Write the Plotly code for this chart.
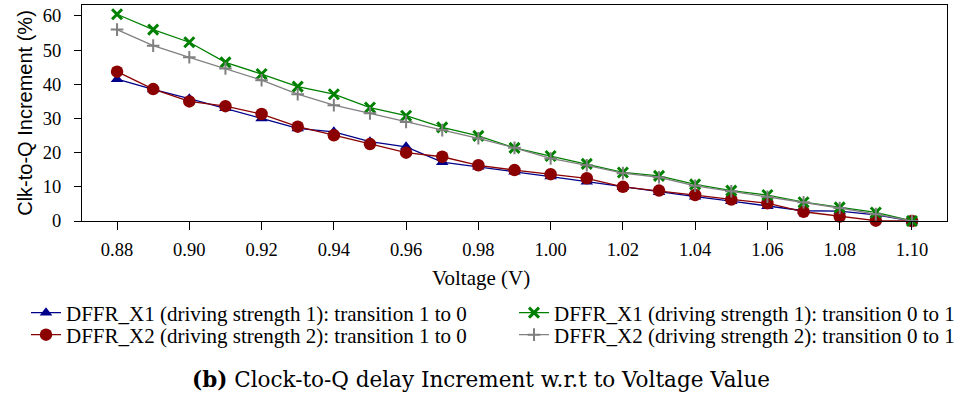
import plotly.graph_objects as go

voltage = [0.88, 0.89, 0.90, 0.91, 0.92, 0.93, 0.94, 0.95, 0.96, 0.97, 0.98, 0.99,
           1.00, 1.01, 1.02, 1.03, 1.04, 1.05, 1.06, 1.07, 1.08, 1.09, 1.10]

x1_fall = [41.5, 38.5, 35.8, 33.0, 30.0, 27.1, 26.1, 23.2, 21.7, 17.2, 15.9, 14.4,
           13.0, 11.5, 9.9, 8.4, 7.1, 5.8, 4.3, 3.0, 2.9, 1.8, 0.0]
x2_fall = [43.7, 38.6, 35.0, 33.6, 31.3, 27.6, 25.1, 22.5, 20.0, 18.8, 16.3, 14.9,
           13.7, 12.5, 10.0, 8.9, 7.6, 6.3, 5.2, 2.7, 1.3, 0.1, 0.0]
x1_rise = [60.5, 56.0, 52.3, 46.4, 43.0, 39.3, 37.1, 33.2, 30.8, 27.4, 24.9, 21.4,
           19.0, 16.7, 14.2, 13.2, 10.7, 8.9, 7.6, 5.5, 4.0, 2.5, 0.0]
x2_rise = [56.0, 51.3, 47.9, 44.6, 41.2, 37.1, 33.9, 31.5, 29.0, 26.6, 24.2, 21.4,
           18.3, 16.3, 14.0, 12.8, 10.3, 8.7, 7.1, 5.5, 3.8, 2.0, 0.0]

names = [
    "DFFR_X1 (driving strength 1): transition 1 to 0",
    "DFFR_X2 (driving strength 2): transition 1 to 0",
    "DFFR_X1 (driving strength 1): transition 0 to 1",
    "DFFR_X2 (driving strength 2): transition 0 to 1",
]
x_ticks = [0.88, 0.90, 0.92, 0.94, 0.96, 0.98, 1.00, 1.02, 1.04, 1.06, 1.08, 1.10]
y_ticks = [0, 10, 20, 30, 40, 50, 60]

fig = go.Figure()
fig.add_trace(go.Scatter(
    x=voltage, y=x1_fall, name=names[0], mode="lines+markers", legend="legend",
    line=dict(color="#00008B", width=1.3), cliponaxis=False,
    marker=dict(symbol="triangle-up", size=11, color="#00008B")))
fig.add_trace(go.Scatter(
    x=voltage, y=x2_fall, name=names[1], mode="lines+markers", legend="legend3",
    line=dict(color="#8B0000", width=1.3), cliponaxis=False,
    marker=dict(symbol="circle", size=12.5, color="#8B0000")))
fig.add_trace(go.Scatter(
    x=voltage, y=x1_rise, name=names[2], mode="lines+markers", legend="legend2",
    line=dict(color="#008000", width=1.3), cliponaxis=False,
    marker=dict(symbol="x-thin", size=10, color="#008000",
                line=dict(color="#008000", width=3))))
fig.add_trace(go.Scatter(
    x=voltage, y=x2_rise, name=names[3], mode="lines+markers", legend="legend4",
    line=dict(color="#808080", width=1.3), cliponaxis=False,
    marker=dict(symbol="cross-thin", size=9, color="#808080",
                line=dict(color="#808080", width=2))))

serif = "Liberation Serif, Times New Roman, Tinos, serif"
sans = "Liberation Sans, Arial, Arimo, sans-serif"
cap_font = "DejaVu Serif, serif"

plot_l, plot_r, plot_t, plot_b = 82, 947, 5, 221
pw, ph = plot_r - plot_l, plot_b - plot_t


def px_x(px):
    return (px - plot_l) / pw


def px_y(py):
    return (plot_b - py) / ph


legend_common = dict(orientation="v", yanchor="middle", xanchor="left",
                     font=dict(family=serif, size=21, color="black"),
                     bgcolor="rgba(0,0,0,0)", borderwidth=0)
col1_x, col2_x = px_x(67 - 41), px_x(555 - 41)
row1_y, row2_y = px_y(313), px_y(335)

fig.update_layout(
    width=965, height=395,
    margin=dict(l=plot_l, r=965 - plot_r, t=plot_t, b=395 - plot_b),
    paper_bgcolor="white", plot_bgcolor="white",
    font=dict(family=serif, size=18, color="black"),
    xaxis=dict(range=[0.8703, 1.1097], tickvals=x_ticks, tickformat=".2f",
               showgrid=False, zeroline=False, showline=True, linecolor="black",
               linewidth=1, mirror=True, ticks="outside", ticklen=8,
               tickcolor="black", tickfont=dict(family=serif, size=18.5),
               ticklabelstandoff=4, automargin=False),
    yaxis=dict(range=[0, 63.2], tickvals=y_ticks, showgrid=False,
               zeroline=False, showline=True, linecolor="black", linewidth=1,
               mirror=True, ticks="outside", ticklen=7, tickcolor="black",
               tickfont=dict(family=serif, size=18.5), ticklabelstandoff=9,
               automargin=False,
               title=dict(text="Clk-to-Q Increment (%)",
                          font=dict(family=sans, size=20),
                          standoff=4)),
    legend=dict(x=col1_x, y=row1_y, **legend_common),
    legend2=dict(x=col2_x, y=row1_y, **legend_common),
    legend3=dict(x=col1_x, y=row2_y, **legend_common),
    legend4=dict(x=col2_x, y=row2_y, **legend_common),
    showlegend=True,
)
fig.add_annotation(text="Voltage (V)", xref="paper", yref="paper",
                   x=px_x(481), y=px_y(278), xanchor="center",
                   yanchor="middle", showarrow=False,
                   font=dict(family=serif, size=21))
fig.add_annotation(text="<b>(b)</b> Clock-to-Q delay Increment w.r.t to Voltage Value",
                   xref="paper", yref="paper", x=px_x(481),
                   y=px_y(379), xanchor="center", yanchor="middle",
                   showarrow=False, font=dict(family=cap_font, size=21.5))
fig.write_html("out.html", config={"displayModeBar": False},
               post_script="document.body.style.margin='0px';")
